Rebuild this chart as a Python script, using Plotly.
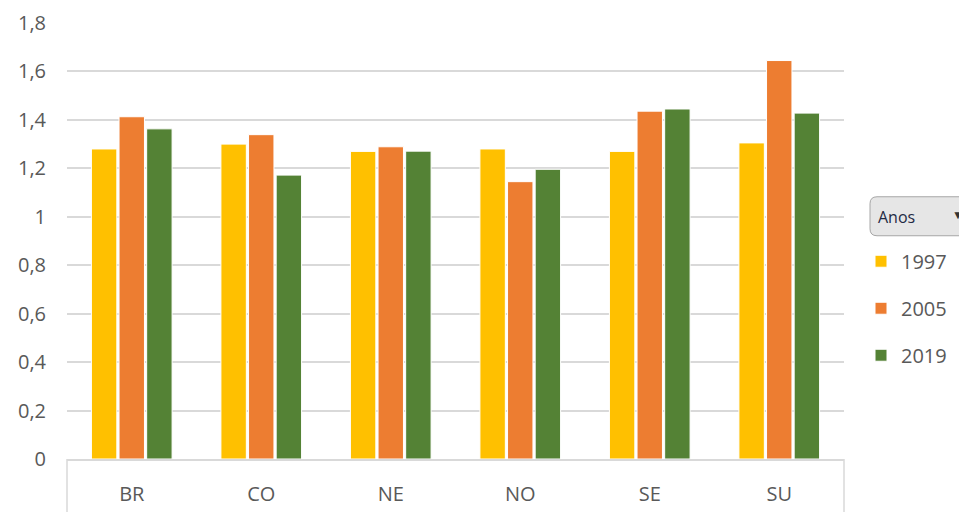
import plotly.graph_objects as go

categories = ["BR", "CO", "NE", "NO", "SE", "SU"]
v1997 = [1.28, 1.30, 1.27, 1.28, 1.27, 1.305]
v2005 = [1.413, 1.339, 1.289, 1.145, 1.436, 1.645]
v2019 = [1.363, 1.172, 1.271, 1.196, 1.445, 1.428]
series_names = ["1997", "2005", "2019"]
colors = ["#FFC000", "#ED7D31", "#548235"]
ytick_vals = [0, 0.2, 0.4, 0.6, 0.8, 1.0, 1.2, 1.4, 1.6, 1.8]
ytick_text = ["0", "0,2", "0,4", "0,6", "0,8", "1", "1,2", "1,4", "1,6", "1,8"]

# page body margin offset (screen px = figure px + OFF)
OFF = 8
W, H = 967 - OFF, 512 - OFF
L = 67 - OFF
T = 23 - OFF
R = W - (844 - OFF)
B = H - (459.5 - OFF)
pw, ph = W - L - R, H - T - B

def px_x(xs):
    return (xs - OFF - L) / pw

def px_y(ys):
    return 1 - (ys - OFF - T) / ph

fig = go.Figure()
for name, vals, col in zip(series_names, [v1997, v2005, v2019], colors):
    fig.add_trace(go.Bar(
        x=categories, y=vals, name=name, legendgroup=name,
        marker=dict(color=col, line=dict(color="white", width=1)),
    ))

font_fam = "Open Sans, Liberation Sans, sans-serif"
fig.update_layout(
    width=W, height=H,
    margin=dict(l=L, r=R, t=T, b=B, autoexpand=False),
    paper_bgcolor="white", plot_bgcolor="white",
    barmode="group", bargap=0.36, bargroupgap=0.08,
    font=dict(family=font_fam, color="#595959", size=20),
    showlegend=True,
    legend=dict(
        x=px_x(861), y=px_y(242), xanchor="left", yanchor="top",
        font=dict(size=20, color="#595959"),
        tracegroupgap=18, traceorder="grouped",
        bgcolor="rgba(0,0,0,0)",
    ),
    xaxis=dict(
        showgrid=False, showline=True, linecolor="#d9d9d9", linewidth=1.5,
        ticks="", ticklabelstandoff=16, tickfont=dict(size=20, color="#595959"),
        automargin=False,
    ),
    yaxis=dict(
        range=[0, 1.8], tickvals=ytick_vals, ticktext=ytick_text,
        showgrid=True, gridcolor="#d9d9d9", gridwidth=1.5,
        zeroline=False, showline=False, ticks="",
        ticklabelstandoff=20, tickfont=dict(size=20, color="#595959"),
        automargin=False,
    ),
)

# category box below axis
for xv in [0, 1]:
    fig.add_shape(type="line", xref="paper", yref="paper",
                  x0=xv, x1=xv, y0=0, y1=-0.3,
                  line=dict(color="#d9d9d9", width=1.5))

# "Anos" field button
fig.add_shape(type="path", xref="paper", yref="paper",
              xsizemode="pixel", ysizemode="pixel",
              xanchor=px_x(870), yanchor=px_y(236),
              path="M 7,0 L 120,0 L 120,39 L 7,39 Q 0,39 0,32 L 0,7 Q 0,0 7,0 Z",
              fillcolor="#e6e6e6", line=dict(color="#a6a6a6", width=1))
fig.add_annotation(xref="paper", yref="paper", x=px_x(876), y=px_y(217),
                   xanchor="left", yanchor="middle", showarrow=False,
                   text="Anos", font=dict(size=16, color="#1f2a44"))
fig.add_annotation(xref="paper", yref="paper", x=px_x(958), y=px_y(215),
                   xanchor="center", yanchor="middle", showarrow=False,
                   text="▼", font=dict(size=12, color="#333333"))

fig.write_html("out.html")
